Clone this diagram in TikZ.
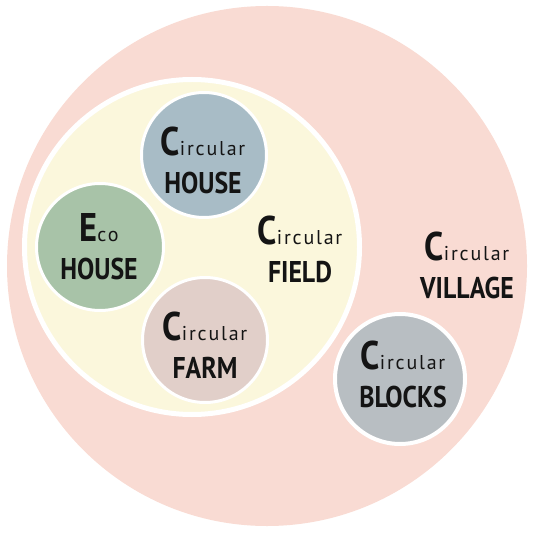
\documentclass[tikz,border=0pt]{standalone}
\usepackage{fontspec}
\usepackage{tikz}
\usetikzlibrary{calc}
\setmainfont{PT Sans}
\newfontfamily\capsfont{PT Sans}[FakeStretch=0.86]
\newfontfamily\restfont{PT Sans}[LetterSpace=9]
\definecolor{villagepink}{HTML}{F9DBD3}
\definecolor{fieldcream}{HTML}{FBF7DC}
\definecolor{houseblue}{HTML}{A8BCC6}
\definecolor{ecogreen}{HTML}{A8C3A8}
\definecolor{farmrose}{HTML}{E1CFC9}
\definecolor{blocksgrey}{HTML}{B8BEC2}
\definecolor{inkblack}{HTML}{141414}
\newcommand{\bigword}[2]{{\fontsize{40}{40}\selectfont #1}{\restfont\mdseries\fontsize{20}{20}\selectfont #2}}
\newcommand{\ringlabel}[3]{\bigword{#1}{#2}\\#3}

\begin{document}
\begin{tikzpicture}[x=1pt, y=-1pt,
	disc/.style={circle, draw=white, line width=3pt, inner sep=0pt},
	lbl/.style={align=center, inner sep=0pt, text=inkblack, font=\capsfont\bfseries\fontsize{30}{38}\selectfont}]
	\useasboundingbox (0,0) rectangle (537,534);
	
	\node[circle, fill=villagepink, minimum size=520pt, inner sep=0pt] (village) at (267,266) {};
	\node[disc, fill=fieldcream, line width=5pt, minimum size=335pt] (field) at (192,247) {};
	\node[disc, fill=houseblue, minimum size=125pt] (house) at (204,155) {};
	\node[disc, fill=ecogreen, minimum size=127pt] (eco) at (100,247) {};
	\node[disc, fill=farmrose, minimum size=125pt] (farm) at (205,340) {};
	\node[disc, fill=blocksgrey, line width=4pt, minimum size=130pt] (blocks) at (400,379) {};
	
	\node[lbl] (housetext) at ($(house)+(-1,5)$) {\ringlabel{C}{ircular}{HOUSE}};
	\node[lbl] (ecotext) at ($(eco)+(-1,0)$) {\ringlabel{E}{co}{HOUSE}};
	\node[lbl] (farmtext) at ($(farm)+(0,5)$) {\ringlabel{C}{ircular}{FARM}};
	\node[lbl] (fieldtext) at ($(field)+(108,2)$) {\ringlabel{C}{ircular}{FIELD}};
	\node[lbl] (villagetext) at ($(village)+(200,-1)$) {\ringlabel{C}{ircular}{VILLAGE}};
	\node[lbl] (blockstext) at ($(blocks)+(3,-5)$) {\ringlabel{C}{ircular}{BLOCKS}};
\end{tikzpicture}
\end{document}
